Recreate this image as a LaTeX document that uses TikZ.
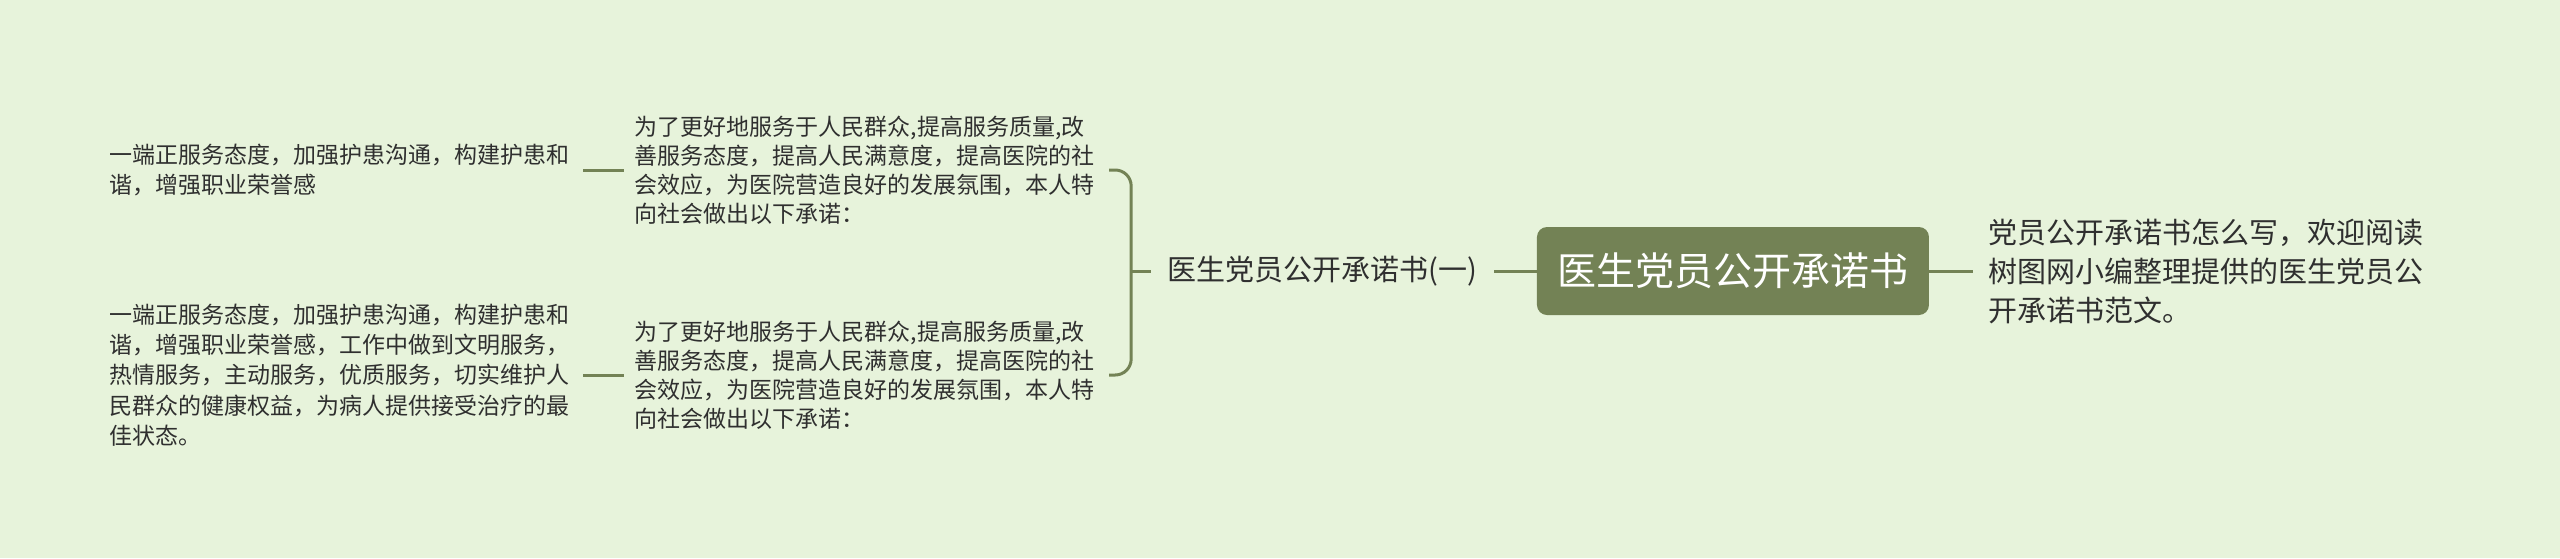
\documentclass[tikz,border=0pt]{standalone}
\usepackage{fontspec}
\usepackage{xcolor}
\usepackage{tikz}
\usetikzlibrary{positioning}
\newfontfamily\cjk{Noto Sans CJK SC}
\definecolor{bgcolor}{HTML}{E7F3DB}
\definecolor{olive}{HTML}{738255}
\definecolor{inkcolor}{HTML}{2F2F2F}
\tikzset{
  topic/.style={fill=olive, rounded corners=5pt, minimum width=196pt, minimum height=44pt, text=white, font=\cjk\fontsize{19.5pt}{23pt}\selectfont, inner sep=0pt},
  sub/.style={text=inkcolor, font=\cjk\fontsize{14.5pt}{18pt}\selectfont, inner xsep=8pt, inner ysep=2pt},
  para/.style={text=inkcolor, font=\cjk\fontsize{11.5pt}{14.5pt}\selectfont, align=left, text width=232pt, inner xsep=5pt, inner ysep=2pt},
  leaf/.style={para, font=\cjk\fontsize{11.5pt}{15.2pt}\selectfont, inner xsep=4.5pt},
  memo/.style={text=inkcolor, font=\cjk\fontsize{14.5pt}{19.5pt}\selectfont, align=left, text width=222pt, inner xsep=7.5pt},
  branch/.style={draw=olive, line width=1.5pt},
}

\begin{document}
\begin{tikzpicture}
\fill[bgcolor] (-866.5pt,-143.5pt) rectangle (413.5pt,135.5pt);
\useasboundingbox (-866.5pt,-143.5pt) rectangle (413.5pt,135.5pt);
\node[topic] (root) at (0,0) {医生党员公开承诺书};
\node[sub, left=21.5pt of root] (part) {医生党员公开承诺书(一)};
\node[memo, right=22pt of root] (intro) {党员公开承诺书怎么写，欢迎阅读\\树图网小编整理提供的医生党员公\\开承诺书范文。};
\coordinate[left=10pt of part.west] (fork);
\node[para, left=21pt of part.west, yshift=50.5pt] (vowa) {为了更好地服务于人民群众,提高服务质量,改\\善服务态度，提高人民满意度，提高医院的社\\会效应，为医院营造良好的发展氛围，本人特\\向社会做出以下承诺：};
\node[para, left=21pt of part.west, yshift=-52pt] (vowb) {为了更好地服务于人民群众,提高服务质量,改\\善服务态度，提高人民满意度，提高医院的社\\会效应，为医院营造良好的发展氛围，本人特\\向社会做出以下承诺：};
\node[leaf, left=20.5pt of vowa] (deeda) {一端正服务态度，加强护患沟通，构建护患和\\谐，增强职业荣誉感};
\node[leaf, left=20.5pt of vowb] (deedb) {一端正服务态度，加强护患沟通，构建护患和\\谐，增强职业荣誉感，工作中做到文明服务，\\热情服务，主动服务，优质服务，切实维护人\\民群众的健康权益，为病人提供接受治疗的最\\佳状态。};
\draw[branch] (root) -- (part);
\draw[branch] (root) -- (intro);
\draw[branch, rounded corners=8pt] (vowa.east) -| (fork) |- (vowb.east);
\draw[branch] (fork) -- (part.west);
\draw[branch] (deeda) -- (vowa);
\draw[branch] (deedb) -- (vowb);
\end{tikzpicture}
\end{document}
